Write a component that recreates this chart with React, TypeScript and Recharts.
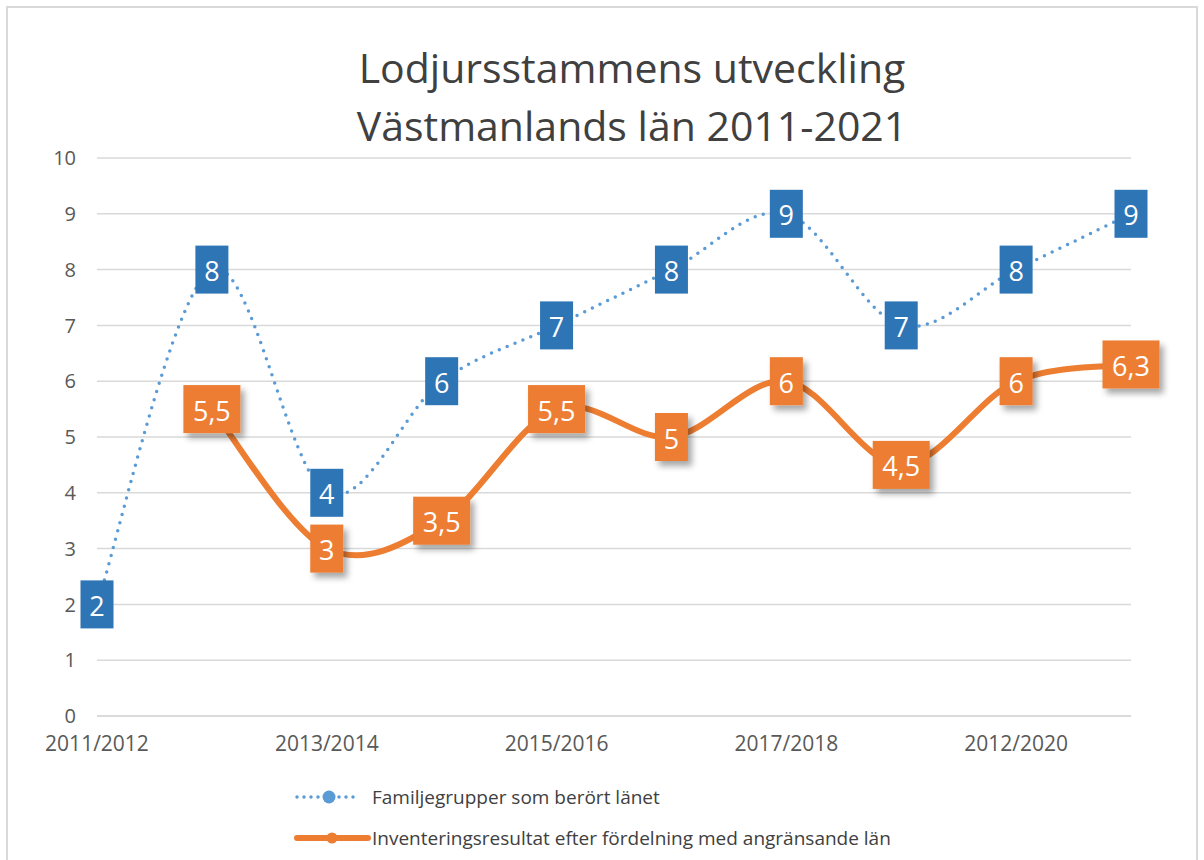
import React from 'react'
import { LineChart, Line, XAxis, YAxis, CartesianGrid, Legend, LabelList } from 'recharts'

const seasons = [
  '2011/2012', '2012/2013', '2013/2014', '2014/2015', '2015/2016',
  '2016/2017', '2017/2018', '2018/2019', '2012/2020', '2020/2021',
]
const familyGroups = [2, 8, 4, 6, 7, 8, 9, 7, 8, 9]
const inventory = [null, 5.5, 3, 3.5, 5.5, 5, 6, 4.5, 6, 6.3]
const yTicks = [0, 1, 2, 3, 4, 5, 6, 7, 8, 9, 10]

const BLUE = '#5B9BD5'
const BLUE_BOX = '#2E75B6'
const ORANGE = '#ED7D31'
const FONT = '"Open Sans", sans-serif'

const data = seasons.map((season, i) => ({
  season,
  familj: familyGroups[i],
  inventering: inventory[i],
}))

// Excel-style smoothing (Catmull-Rom through the points)
const excelSmooth = (context: any) => {
  let pts: number[][] = []
  return {
    areaStart() {},
    areaEnd() {},
    lineStart() {
      pts = []
    },
    point(x: number, y: number) {
      pts.push([+x, +y])
    },
    lineEnd() {
      const n = pts.length
      if (!n) return
      context.moveTo(pts[0][0], pts[0][1])
      for (let i = 0; i < n - 1; i++) {
        const p0 = pts[Math.max(i - 1, 0)]
        const p1 = pts[i]
        const p2 = pts[i + 1]
        const p3 = pts[Math.min(i + 2, n - 1)]
        context.bezierCurveTo(
          p1[0] + (p2[0] - p0[0]) / 6,
          p1[1] + (p2[1] - p0[1]) / 6,
          p2[0] - (p3[0] - p1[0]) / 6,
          p2[1] - (p3[1] - p1[1]) / 6,
          p2[0],
          p2[1]
        )
      }
    },
  }
}

const fmt = (v: any) => String(v).replace('.', ',')

const makeLabel = (fill: string, shadow: boolean) => (props: any) => {
  const { x, y, value } = props
  if (value === null || value === undefined || x == null || y == null) return null
  const text = fmt(value)
  const w = text.length > 1 ? 57 : 33
  const h = 48
  return (
    <g>
      <rect
        x={x - w / 2}
        y={y - h / 2}
        width={w}
        height={h}
        fill={fill}
        filter={shadow ? 'url(#boxShadow)' : undefined}
      />
      <text
        x={x}
        y={y + 1}
        fill="#fff"
        fontSize={27}
        fontFamily={FONT}
        textAnchor="middle"
        dominantBaseline="central"
      >
        {text}
      </text>
    </g>
  )
}

const renderLegend = () => (
  <svg width={640} height={70} style={{ fontFamily: FONT, display: 'block' }}>
    <line x1={5} y1={15} x2={66} y2={15} stroke={BLUE} strokeWidth={3.5} strokeDasharray="0 7" strokeLinecap="round" />
    <circle cx={37} cy={15} r={6.5} fill={BLUE} />
    <text x={80} y={15} fontSize={19} fill="#404040" dominantBaseline="central">
      Familjegrupper som berört länet
    </text>
    <line x1={5} y1={56} x2={76} y2={56} stroke={ORANGE} strokeWidth={6} strokeLinecap="round" />
    <circle cx={40} cy={56} r={5.5} fill={ORANGE} />
    <text x={80} y={56} fontSize={19} fill="#404040" dominantBaseline="central">
      Inventeringsresultat efter fördelning med angränsande län
    </text>
  </svg>
)

export default function App() {
  return (
    <div style={{ position: 'absolute', left: 0, top: 0, width: 1204, height: 860, overflow: 'hidden', background: '#fff' }}>
      <svg width={0} height={0} style={{ position: 'absolute' }}>
        <defs>
          <filter id="boxShadow" x="-30%" y="-30%" width="170%" height="170%">
            <feDropShadow dx={4} dy={5} stdDeviation={3} floodColor="#000" floodOpacity={0.35} />
          </filter>
        </defs>
      </svg>
      <div
        style={{
          position: 'absolute',
          left: 6,
          top: 6,
          width: 1192,
          height: 870,
          border: '2px solid #d9d9d9',
          boxSizing: 'border-box',
        }}
      />
      <div
        style={{
          position: 'absolute',
          left: 0,
          width: 1264,
          top: 38,
          textAlign: 'center',
          fontFamily: FONT,
          fontSize: 41,
          lineHeight: '58px',
          color: '#404040',
        }}
      >
        Lodjursstammens utveckling
        <br />
        Västmanlands län 2011-2021
      </div>
      <div style={{ position: 'absolute', left: 0, top: 0 }}>
        <LineChart width={1204} height={860} data={data} margin={{ top: 158, right: 73, bottom: 114, left: 37 }}>
          <CartesianGrid vertical={false} stroke="#d9d9d9" strokeWidth={1.5} />
          <XAxis
            dataKey="season"
            interval={1}
            tickLine={false}
            axisLine={{ stroke: '#d9d9d9', strokeWidth: 1.5 }}
            tick={{ fontSize: 21, fill: '#595959', fontFamily: FONT }}
            tickMargin={14}
            height={30}
          />
          <YAxis
            domain={[0, 10]}
            ticks={yTicks}
            width={60}
            tickLine={false}
            axisLine={false}
            tickSize={0}
            tickMargin={21}
            tick={{ fontSize: 20, fill: '#595959', fontFamily: FONT }}
          />
          <Legend
            layout="horizontal"
            verticalAlign="middle"
            align="center"
            content={renderLegend}
            wrapperStyle={{ position: 'absolute', left: 292, top: 782, width: 640, height: 70 }}
          />
          <Line
            dataKey="familj"
            name="Familjegrupper som berört länet"
            type={excelSmooth as any}
            stroke={BLUE}
            strokeWidth={3.5}
            strokeDasharray="0 8.5"
            strokeLinecap="round"
            dot={false}
            activeDot={false}
            isAnimationActive={false}
          >
            <LabelList dataKey="familj" content={makeLabel(BLUE_BOX, false)} />
          </Line>
          <Line
            dataKey="inventering"
            name="Inventeringsresultat efter fördelning med angränsande län"
            type={excelSmooth as any}
            stroke={ORANGE}
            strokeWidth={6}
            strokeLinecap="round"
            dot={false}
            activeDot={false}
            isAnimationActive={false}
          >
            <LabelList dataKey="inventering" content={makeLabel(ORANGE, true)} />
          </Line>
        </LineChart>
      </div>
    </div>
  )
}
